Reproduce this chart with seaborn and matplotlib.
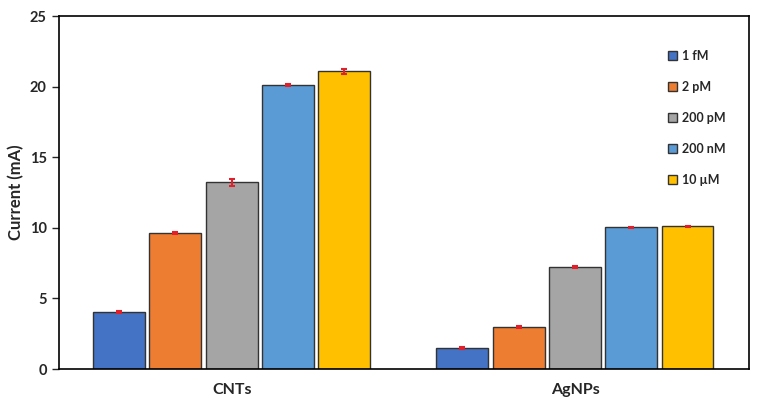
import matplotlib
matplotlib.use("Agg")
import matplotlib.pyplot as plt
import seaborn as sns
import pandas as pd

# values
groups = ["CNTs", "AgNPs"]
concentrations = ["1 fM", "2 pM", "200 pM", "200 nM", "10 µM"]
cnts_current = [4.03, 9.63, 13.22, 20.12, 21.08]
cnts_err = [0.05, 0.05, 0.25, 0.05, 0.15]
agnps_current = [1.5, 2.97, 7.22, 10.04, 10.1]
agnps_err = [0.05, 0.05, 0.05, 0.05, 0.05]
palette = ["#4472C4", "#ED7D31", "#A5A5A5", "#5B9BD5", "#FFC000"]

sns.set_style("white")
plt.rcParams['font.family'] = ['Lato', 'DejaVu Sans']
plt.rcParams['font.weight'] = 'bold'

rows = []
for g, vals, errs in [("CNTs", cnts_current, cnts_err), ("AgNPs", agnps_current, agnps_err)]:
    for c, v, e in zip(concentrations, vals, errs):
        rows.append({"Group": g, "Concentration": c, "Current": v, "Err": e})
data = pd.DataFrame(rows)

fig, ax = plt.subplots(figsize=(7.62, 4.11), dpi=100)
sns.barplot(data=data, x="Group", y="Current", hue="Concentration", order=groups,
            hue_order=concentrations, palette=palette, width=0.82, gap=0.08,
            edgecolor="#333333", linewidth=1.0, saturation=1, errorbar=None, ax=ax)

# red error bars at each bar centre
for cont, conc in zip(ax.containers, concentrations):
    sub = data[data["Concentration"] == conc].set_index("Group").loc[groups]
    xs = [p.get_x() + p.get_width() / 2 for p in cont.patches]
    ax.errorbar(xs, sub["Current"], yerr=sub["Err"], fmt="none", ecolor="#E0202A",
                elinewidth=1.5, capsize=2, capthick=1.5, zorder=5)

ax.set_xlim(-0.504, 1.507)
ax.set_ylim(0, 25)
ax.set_yticks([0, 5, 10, 15, 20, 25])
ax.set_xlabel("")
ax.set_ylabel("Current (mA)", fontsize=12, fontweight="bold")
ax.tick_params(axis="y", direction="out", length=5, width=1, labelsize=10.5, left=True)
ax.tick_params(axis="x", length=0, labelsize=11.5, pad=10)
for lab in ax.get_xticklabels() + ax.get_yticklabels():
    lab.set_fontweight("bold")
for s in ax.spines.values():
    s.set_color("black")
    s.set_linewidth(1.2)

leg = ax.legend(loc="upper right", bbox_to_anchor=(0.982, 0.935), frameon=False,
                labelspacing=1.52, handlelength=0.7, handleheight=0.7,
                handletextpad=0.4, prop={"weight": "bold", "size": 9})

fig.subplots_adjust(left=0.077, right=0.983, top=0.961, bottom=0.102)
fig.savefig("out.png", dpi=100)
